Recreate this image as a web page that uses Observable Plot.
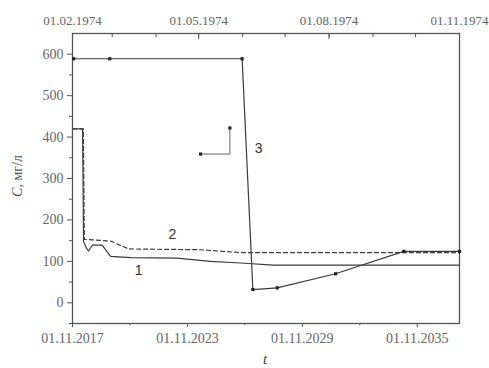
<!DOCTYPE html>
<html>
<head>
<meta charset="utf-8">
<script src="https://cdn.jsdelivr.net/npm/d3@7"></script>
<script src="https://cdn.jsdelivr.net/npm/@observablehq/plot@0.6"></script>
<style>
  html, body { margin: 0; padding: 0; background: #fff; }
  #chart { width: 489px; height: 368px; overflow: hidden; }
</style>
</head>
<body>
<div id="chart"></div>
<script>
// ---- data (decimal years on the model time axis, C in mg/l) ----
const curve1Year  = [2017.86, 2018.36, 2018.41, 2018.56, 2018.67, 2018.86, 2019.38, 2019.82, 2020.86, 2023.30, 2025.04, 2026.61, 2028.33, 2038.04];
const curve1Value = [420, 420, 148, 132, 125, 139, 139, 112, 109, 108, 100, 96, 91, 91];

const curve2Year  = [2017.86, 2018.40, 2018.45, 2018.88, 2019.82, 2020.76, 2024.52, 2026.61, 2038.04];
const curve2Value = [420, 420, 153, 152, 149, 130, 128, 121, 121];

const curve3Year  = [2017.89, 2019.78, 2026.69, 2027.25, 2028.52, 2031.57, 2035.13, 2038.04];
const curve3Value = [589, 589, 589, 32, 36, 70, 124, 124];

const insetYear  = [2024.52, 2026.05, 2026.05];
const insetValue = [359, 359, 422];

const curveLabels = ["1", "2", "3"];
const curveLabelYear  = [2021.28, 2023.05, 2027.55];
const curveLabelValue = [79, 165, 373];

const xDomain = [2017.833, 2038.04];
const yDomain = [-50, 650];

const bottomTickYears  = [2017.833, 2023.833, 2029.833, 2035.833];
const bottomTickLabels = ["01.11.2017", "01.11.2023", "01.11.2029", "01.11.2035"];
const bottomMinorYears = [2020.833, 2026.833, 2032.833];

const topTickDates  = ["1974-02-01","1974-03-01","1974-04-01","1974-05-01","1974-06-01","1974-07-01","1974-08-01","1974-09-01","1974-10-01","1974-11-01"];
const topLabelDates = ["1974-02-01","1974-05-01","1974-08-01","1974-11-01"];
const topLabels     = ["01.02.1974","01.05.1974","01.08.1974","01.11.1974"];

const yMajor = [0, 100, 200, 300, 400, 500, 600];
const yMinor = [-50, 50, 150, 250, 350, 450, 550];

// ---- build tables ----
const zip = (xs, ys) => xs.map((x, i) => ({x, y: ys[i]}));
const c1 = zip(curve1Year, curve1Value);
const c2 = zip(curve2Year, curve2Value);
const c3 = zip(curve3Year, curve3Value);
const inset = zip(insetYear, insetValue);
const labs = curveLabels.map((t, i) => ({t, x: curveLabelYear[i], y: curveLabelValue[i]}));

// top axis (real 1974 dates) mapped linearly onto the model time axis
const t0 = new Date("1974-02-01"), t1 = new Date("1974-11-01");
const span = d3.utcDay.count(t0, t1);
const mapTop = s => xDomain[0] + d3.utcDay.count(t0, new Date(s)) / span * (xDomain[1] - xDomain[0]);
const topTicks = topTickDates.map(mapTop);
const topLabelPos = topLabelDates.map(mapTop);

const ink = "#3c3c3c";
const axisInk = "#555";
const txt = "#666";
const serif = "'Liberation Serif', 'Times New Roman', serif";
const sans = "'Liberation Sans', Arial, sans-serif";

const plot = Plot.plot({
  width: 489,
  height: 368,
  marginLeft: 72,
  marginRight: 30,
  marginTop: 33,
  marginBottom: 45,
  style: {fontSize: "14px", color: txt, background: "#fff", overflow: "visible"},
  x: {type: "linear", domain: xDomain},
  y: {domain: yDomain},
  marks: [
    Plot.frame({stroke: axisInk, strokeWidth: 1.3}),
    // bottom axis
    Plot.axisX({anchor: "bottom", ticks: bottomTickYears, tickFormat: (d, i) => bottomTickLabels[i], tickSize: 4, tickPadding: 6, stroke: axisInk, fill: txt, fontSize: 14, label: null}),
    Plot.axisX({anchor: "bottom", ticks: bottomMinorYears, tickFormat: () => "", tickSize: 2, stroke: axisInk, label: null}),
    // top axis (ticks pointing inward)
    Plot.axisX({anchor: "top", ticks: topLabelPos, tickFormat: (d, i) => topLabels[i], tickSize: 0, tickPadding: 9, fill: txt, fontSize: 13, label: null}),
    Plot.ruleX(topTicks, {x: d => d, y1: yDomain[1], y2: yDomain[1], insetBottom: -4, stroke: axisInk}),
    Plot.ruleX(topLabelPos, {x: d => d, y1: yDomain[1], y2: yDomain[1], insetBottom: -6, stroke: axisInk}),
    // y axis
    Plot.axisY({ticks: yMajor, tickSize: 5, tickPadding: 4, stroke: axisInk, fill: txt, fontSize: 14, label: null}),
    Plot.axisY({ticks: yMinor, tickFormat: () => "", tickSize: 3, stroke: axisInk, label: null}),
    // curves
    Plot.line(c1, {x: "x", y: "y", stroke: ink, strokeWidth: 1.2}),
    Plot.line(c2, {x: "x", y: "y", stroke: ink, strokeWidth: 1.2, strokeDasharray: "4,3"}),
    Plot.line(c3, {x: "x", y: "y", stroke: ink, strokeWidth: 1.2}),
    Plot.dot(c3, {x: "x", y: "y", symbol: "square", r: 1.8, fill: "#222", stroke: null}),
    Plot.line(inset, {x: "x", y: "y", stroke: "#666", strokeWidth: 1}),
    Plot.dot([inset[0], inset[2]], {x: "x", y: "y", symbol: "square", r: 1.8, fill: "#222", stroke: null}),
    Plot.text(labs, {x: "x", y: "y", text: "t", fontSize: 14, fill: "#333"})
  ]
});

document.getElementById("chart").appendChild(plot);

const svg = d3.select(plot);
// serif for axis tick labels, sans for the curve numbers (inline styles win)
svg.selectAll("text").style("font-family", serif);
svg.selectAll('g[aria-label="text"] text').style("font-family", sans);

// axis titles
const yt = svg.append("text")
  .attr("transform", "translate(22,176) rotate(-90)")
  .attr("text-anchor", "middle")
  .attr("font-size", 14)
  .attr("fill", "#555")
  .style("font-family", serif);
yt.append("tspan").attr("font-style", "italic").text("C");
yt.append("tspan").text(", мг/л");

svg.append("text")
  .attr("x", 265).attr("y", 364)
  .attr("text-anchor", "middle")
  .attr("font-style", "italic")
  .attr("font-size", 15)
  .attr("fill", "#444")
  .style("font-family", serif)
  .text("t");
</script>
</body>
</html>
